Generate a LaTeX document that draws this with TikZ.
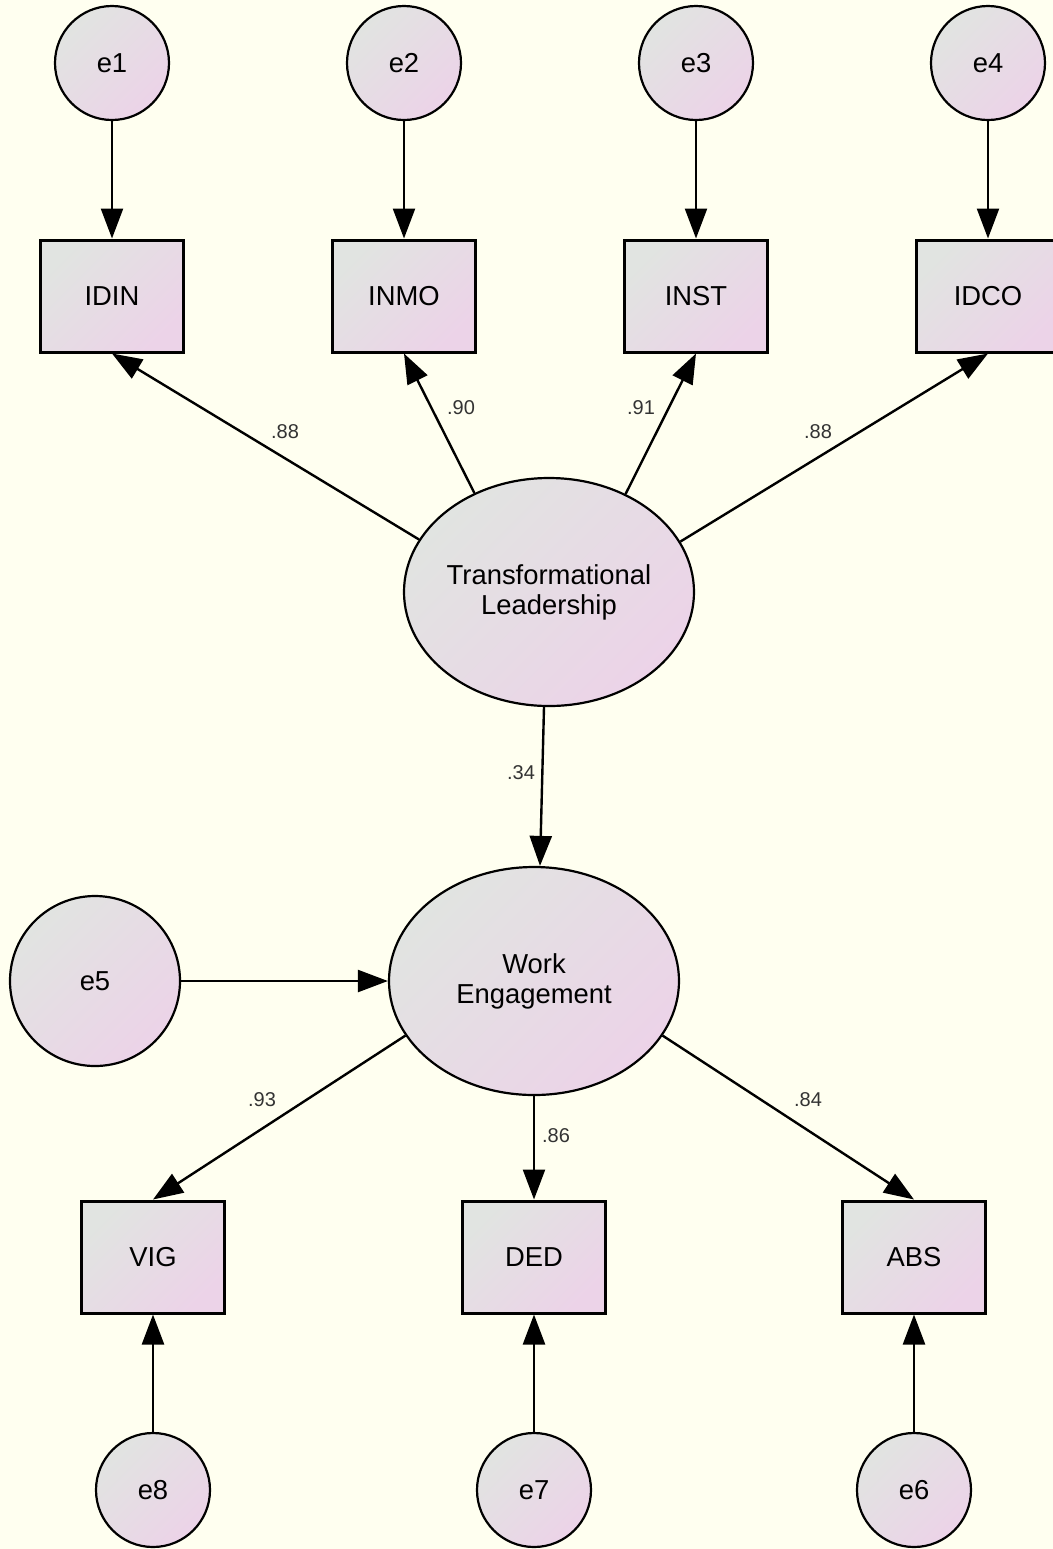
\documentclass[tikz,border=0pt]{standalone}
\usepackage{fontspec}
\setmainfont{Liberation Sans}
\usetikzlibrary{arrows.meta,shapes.geometric,calc}
\definecolor{bg}{HTML}{FFFFF0}
\definecolor{fillA}{HTML}{E1E4E1}
\definecolor{fillB}{HTML}{ECD3E8}
\definecolor{lab}{HTML}{333333}
\tikzset{
  shadedfill/.style={top color=fillA, bottom color=fillB, shading angle=45},
  obsbox/.style={rectangle, draw=black, line width=1.5pt, shadedfill, minimum width=71.5pt, minimum height=56pt, inner sep=0pt, font=\fontsize{13.7}{15}\selectfont},
  errc/.style={circle, draw=black, line width=1.1pt, shadedfill, minimum size=57pt, inner sep=0pt, font=\fontsize{13.7}{15}\selectfont},
  latent/.style={ellipse, draw=black, line width=1.1pt, shadedfill, minimum width=145pt, minimum height=114pt, inner sep=0pt, align=center, font=\fontsize{13.7}{15}\selectfont},
  path/.style={line width=1.2pt, -{Triangle[length=15pt,width=11pt]}},
  coef/.style={font=\fontsize{10}{12}\selectfont, text=lab, inner sep=0pt}
}
\begin{document}
\begin{tikzpicture}[x=0.5pt,y=-0.5pt]
\useasboundingbox (0,0) rectangle (1053,1549);
\clip (0,0) rectangle (1053,1549);
\fill[bg] (0,0) rectangle (1053,1549);

% error terms top
\node[errc] (e1) at (112,63) {e1};
\node[errc] (e2) at (404,63) {e2};
\node[errc] (e3) at (696,63) {e3};
\node[errc] (e4) at (988,63) {e4};

% indicators top
\node[obsbox] (idin) at (112,296) {IDIN};
\node[obsbox] (inmo) at (404,296) {INMO};
\node[obsbox] (inst) at (696,296) {INST};
\node[obsbox] (idco) at (988,296) {IDCO};

% latent variables
\node[latent] (tl) at (549,592) {Transformational\\Leadership};
\node[latent] (we) at (534,981) {Work\\Engagement};
\node[errc, minimum size=85pt] (e5) at (95,981) {e5};

% indicators bottom
\node[obsbox] (vig) at (153,1257) {VIG};
\node[obsbox] (ded) at (534,1257) {DED};
\node[obsbox] (abs) at (914,1257) {ABS};

% error terms bottom
\node[errc] (e8) at (153,1490) {e8};
\node[errc] (e7) at (534,1490) {e7};
\node[errc] (e6) at (914,1490) {e6};

% paths
\draw[path] (e1) -- (idin);
\draw[path] (e2) -- (inmo);
\draw[path] (e3) -- (inst);
\draw[path] (e4) -- (idco);

\draw[path] (tl.158.4) -- (idin.south);
\draw[path] (tl.127.6) -- (inmo.south);
\draw[path] (tl.52) -- (inst.south);
\draw[path] (tl.21.2) -- (idco.south);

\draw[path] ($(tl.south)+(-5,0)$) -- ($(we.north)+(6,0)$);
\draw[path] (e5) -- (we);

\draw[path] (we.203) -- (vig.north);
\draw[path] (we.south) -- (ded.north);
\draw[path] (we.337) -- (abs.north);

\draw[path] (e8) -- (vig);
\draw[path] (e7) -- (ded);
\draw[path] (e6) -- (abs);

% coefficients
\node[coef] (c1) at (285,432) {.88};
\node[coef] (c2) at (461,408) {.90};
\node[coef] (c3) at (641,408) {.91};
\node[coef] (c4) at (818,432) {.88};
\node[coef] (c5) at (521,773) {.34};
\node[coef] (c6) at (262,1100) {.93};
\node[coef] (c7) at (556,1136) {.86};
\node[coef] (c8) at (808,1100) {.84};
\end{tikzpicture}
\end{document}
